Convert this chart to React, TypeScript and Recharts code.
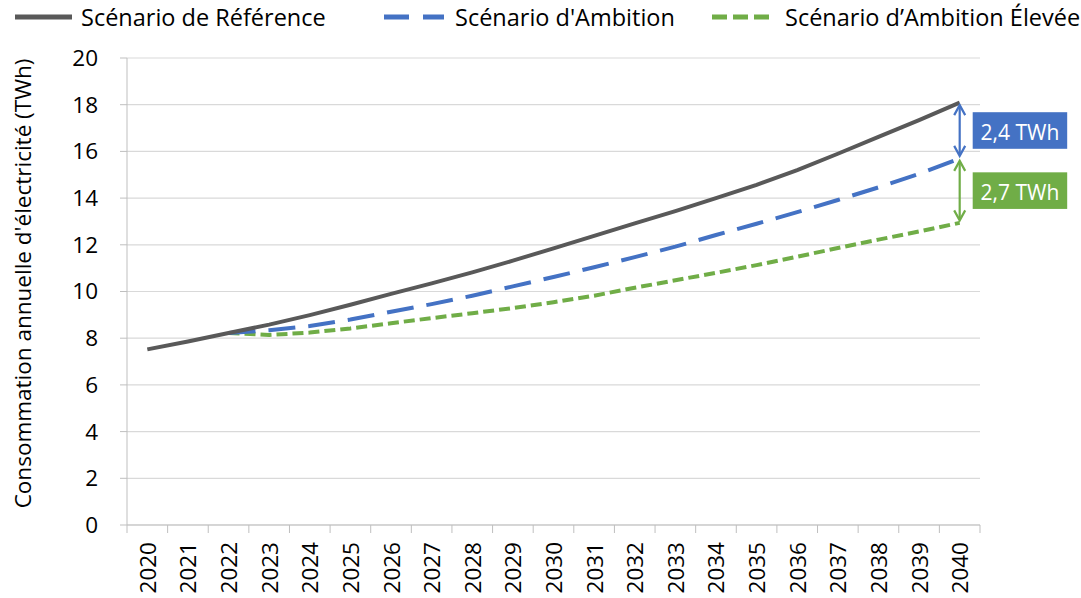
import React from 'react';
import { LineChart, Line, XAxis, YAxis, CartesianGrid, ReferenceLine } from 'recharts';

const years = ['2020', '2021', '2022', '2023', '2024', '2025', '2026', '2027', '2028', '2029', '2030', '2031', '2032', '2033', '2034', '2035', '2036', '2037', '2038', '2039', '2040'];
const reference = [7.52, 7.86, 8.22, 8.58, 8.99, 9.43, 9.9, 10.35, 10.82, 11.32, 11.85, 12.38, 12.92, 13.44, 14.0, 14.57, 15.2, 15.9, 16.62, 17.34, 18.09];
const ambition = [null, null, 8.22, 8.34, 8.52, 8.8, 9.13, 9.46, 9.82, 10.22, 10.62, 11.04, 11.47, 11.92, 12.42, 12.9, 13.4, 13.92, 14.46, 15.04, 15.7];
const ambitionElevee = [null, null, 8.22, 8.14, 8.24, 8.42, 8.64, 8.86, 9.07, 9.29, 9.54, 9.82, 10.16, 10.48, 10.8, 11.13, 11.49, 11.86, 12.22, 12.57, 12.94];
const yTicks = [0, 2, 4, 6, 8, 10, 12, 14, 16, 18, 20];
const seriesNames = ['Scénario de Référence', "Scénario d'Ambition", 'Scénario d’Ambition Élevée'];
const gapLabels = ['2,4 TWh', '2,7 TWh'];
const yTitle = "Consommation annuelle d'électricité (TWh)";

const data = years.map((year, i) => ({
  year,
  reference: reference[i],
  ambition: ambition[i],
  ambitionElevee: ambitionElevee[i],
}));

const W = 1081;
const H = 598;
const MARGIN = { top: 58, right: 101, bottom: 0, left: 0 };
const Y_AXIS_W = 127;
const X_AXIS_H = 73;
const PLOT_W = W - MARGIN.left - MARGIN.right - Y_AXIS_W;
const HALF_BAND = PLOT_W / years.length / 2;

const GRAY = '#595959';
const BLUE = '#4472C4';
const GREEN = '#70AD47';
const AXIS = '#BFBFBF';
const GRID = '#D9D9D9';
const FONT = '"Open Sans", "Noto Sans", sans-serif';
const TICK_FS = 22.5;
const TITLE_FS = 22.5;
const LEGEND_FS = 23.5;

const XTick = (props: any) => {
  const { x, y, payload, index } = props;
  const isLast = index === years.length - 1;
  const ty = y + 17;
  return (
    <g>
      <line x1={x - HALF_BAND} x2={x - HALF_BAND} y1={y} y2={y + 8} stroke={AXIS} strokeWidth={1} />
      {isLast && <line x1={x + HALF_BAND} x2={x + HALF_BAND} y1={y} y2={y + 8} stroke={AXIS} strokeWidth={1} />}
      <text
        x={x}
        y={ty}
        transform={`rotate(-90, ${x}, ${ty})`}
        textAnchor="end"
        dominantBaseline="central"
        fontSize={TICK_FS}
        fontFamily={FONT}
        fill="#000"
      >
        {payload.value}
      </text>
    </g>
  );
};

const YTitle = (props: any) => {
  const vb = props.viewBox || { x: 0, y: MARGIN.top, width: Y_AXIS_W, height: 467 };
  const cx = vb.x + 22;
  const cy = vb.y + vb.height / 2 - 8;
  return (
    <text
      x={cx}
      y={cy}
      transform={`rotate(-90, ${cx}, ${cy})`}
      textAnchor="middle"
      dominantBaseline="central"
      fontSize={TITLE_FS}
      fontFamily={FONT}
      fill="#000"
    >
      {yTitle}
    </text>
  );
};

const GapArrow = (props: any) => {
  const { x1, y1, y2, color, text } = props;
  if (x1 == null || y1 == null || y2 == null) return null;
  const top = Math.min(y1, y2) + 2.5;
  const bottom = Math.max(y1, y2) - 2.5;
  const x = x1;
  const mid = (top + bottom) / 2;
  return (
    <g>
      <line x1={x} x2={x} y1={top + 1} y2={bottom - 1} stroke={color} strokeWidth={2.2} />
      <polyline points={`${x - 5.5},${top + 10} ${x},${top} ${x + 5.5},${top + 10}`} fill="none" stroke={color} strokeWidth={2.2} strokeLinejoin="miter" />
      <polyline points={`${x - 5.5},${bottom - 10} ${x},${bottom} ${x + 5.5},${bottom - 10}`} fill="none" stroke={color} strokeWidth={2.2} strokeLinejoin="miter" />
      <rect x={x + 13} y={mid - 18.3} width={94.5} height={36.6} fill={color} />
      <text
        x={x + 13 + 94.5 / 2}
        y={mid + 1}
        textAnchor="middle"
        dominantBaseline="central"
        fontSize={21}
        fontFamily={FONT}
        fill="#fff"
      >
        {text}
      </text>
    </g>
  );
};

const LegendOverlay = () => (
  <svg width={W} height={40} style={{ position: 'absolute', left: 0, top: 0, pointerEvents: 'none' }}>
    <line x1={15} x2={72} y1={17} y2={17} stroke={GRAY} strokeWidth={5} />
    <text x={81} y={17} dominantBaseline="central" fontSize={LEGEND_FS} fontFamily={FONT} fill="#000">{seriesNames[0]}</text>
    <line x1={384} x2={444} y1={17} y2={17} stroke={BLUE} strokeWidth={5} strokeDasharray="25 14" />
    <text x={455} y={17} dominantBaseline="central" fontSize={LEGEND_FS} fontFamily={FONT} fill="#000">{seriesNames[1]}</text>
    <line x1={712} x2={770} y1={17} y2={17} stroke={GREEN} strokeWidth={5} strokeDasharray="15 6" />
    <text x={785} y={17} dominantBaseline="central" fontSize={LEGEND_FS} fontFamily={FONT} fill="#000">{seriesNames[2]}</text>
  </svg>
);

export default function App() {
  const last = years.length - 1;
  return (
    <div style={{ position: 'absolute', left: 0, top: 0, width: W, height: H, overflow: 'hidden', background: '#fff' }}>
      <LineChart width={W} height={H} data={data} margin={MARGIN}>
        <CartesianGrid vertical={false} stroke={GRID} strokeWidth={1.2} />
        <XAxis
          dataKey="year"
          height={X_AXIS_H}
          interval={0}
          padding={{ left: HALF_BAND, right: HALF_BAND }}
          axisLine={{ stroke: AXIS }}
          tickLine={false}
          tickSize={0}
          tickMargin={0}
          tick={(p: any) => <XTick {...p} />}
        />
        <YAxis
          width={Y_AXIS_W}
          domain={[0, 20]}
          ticks={yTicks}
          interval={0}
          axisLine={{ stroke: AXIS }}
          tickLine={{ stroke: AXIS }}
          tickSize={7}
          tickMargin={22}
          tick={{ fill: '#000', fontSize: TICK_FS, fontFamily: FONT }}
          label={(p: any) => <YTitle {...p} />}
        />
        <Line
          type="linear"
          dataKey="ambitionElevee"
          name={seriesNames[2]}
          stroke={GREEN}
          strokeWidth={4}
          strokeDasharray="11 5"
          dot={false}
          activeDot={false}
          isAnimationActive={false}
        />
        <Line
          type="linear"
          dataKey="ambition"
          name={seriesNames[1]}
          stroke={BLUE}
          strokeWidth={4}
          strokeDasharray="27 13"
          dot={false}
          activeDot={false}
          isAnimationActive={false}
        />
        <Line
          type="linear"
          dataKey="reference"
          name={seriesNames[0]}
          stroke={GRAY}
          strokeWidth={4}
          dot={false}
          activeDot={false}
          isAnimationActive={false}
        />
        <ReferenceLine
          segment={[{ x: years[last], y: reference[last] }, { x: years[last], y: ambition[last] as number }]}
          ifOverflow="visible"
          stroke={BLUE}
          shape={(p: any) => <GapArrow {...p} color={BLUE} text={gapLabels[0]} />}
        />
        <ReferenceLine
          segment={[{ x: years[last], y: ambition[last] as number }, { x: years[last], y: ambitionElevee[last] as number }]}
          ifOverflow="visible"
          stroke={GREEN}
          shape={(p: any) => <GapArrow {...p} color={GREEN} text={gapLabels[1]} />}
        />
      </LineChart>
      <LegendOverlay />
    </div>
  );
}
